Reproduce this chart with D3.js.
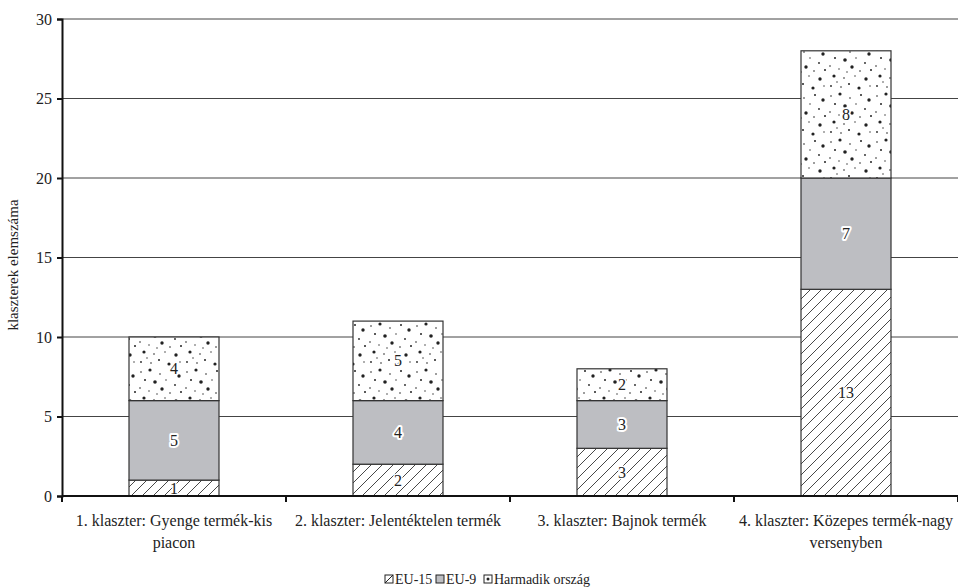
<!DOCTYPE html>
<html><head><meta charset="utf-8">
<script src="https://cdn.jsdelivr.net/npm/d3@7"></script>
<style>body{margin:0;background:#fff}svg{display:block}svg text{font-family:"Liberation Serif",serif;fill:#222}</style>
</head><body><svg id="c" width="958" height="587" font-family="Liberation Serif"></svg>
<script>
const categories = ["1. klaszter: Gyenge termék-kis piacon","2. klaszter: Jelentéktelen termék","3. klaszter: Bajnok termék","4. klaszter: Közepes termék-nagy versenyben"];
const categoryLines = [["1. klaszter: Gyenge termék-kis","piacon"],["2. klaszter: Jelentéktelen termék"],["3. klaszter: Bajnok termék"],["4. klaszter: Közepes termék-nagy","versenyben"]];
const seriesNames = ["EU-15","EU-9","Harmadik ország"];
const eu15 = [1,2,3,13];
const eu9 = [5,4,3,7];
const harmadik = [4,5,2,8];
const yTicks = [0,5,10,15,20,25,30];
const yTitle = "klaszterek elemszáma";

const svg = d3.select("#c");
const m = {l:62, r:0, t:19, b:91};
const W = 958, H = 587;
const x = d3.scaleBand().domain(categories).range([m.l, W - m.r]).paddingInner(0).paddingOuter(0);
const y = d3.scaleLinear().domain([0,30]).range([H - m.b, m.t]);

const defs = svg.append("defs");
const hatch = defs.append("pattern").attr("id","hatch").attr("patternUnits","userSpaceOnUse").attr("width",11).attr("height",11);
hatch.append("rect").attr("width",11).attr("height",11).attr("fill","#fff");
hatch.append("path").attr("d","M0,11 L11,0 M-3,3 L3,-3 M8,14 L14,8").attr("stroke","#333").attr("stroke-width",0.9);

const dots = defs.append("pattern").attr("id","dots").attr("patternUnits","userSpaceOnUse").attr("width",46).attr("height",46);
dots.append("rect").attr("width",46).attr("height",46).attr("fill","#fff");
const dotPts = [[3,4,0.8],[12,2,1.6],[22,6,0.8],[33,3,1.0],[41,8,1.7],[7,12,1.0],[17,14,1.8],[28,12,0.7],[37,17,0.9],[2,20,0.8],[11,23,0.7],[24,21,1.7],[32,25,0.8],[43,24,1.0],[6,30,1.6],[16,32,0.8],[27,30,0.7],[38,33,1.7],[3,40,0.9],[13,41,0.8],[21,38,1.0],[31,42,1.6],[42,40,0.7],[19,26,0.7],[9,36,0.7]];
dotPts.forEach(d=>dots.append("circle").attr("cx",d[0]).attr("cy",d[1]).attr("r",d[2]).attr("fill","#222"));

const fills = ["url(#hatch)","#bdbec2","url(#dots)"];

// gridlines
svg.append("g").selectAll("line").data(yTicks.filter(t=>t>0)).join("line")
  .attr("x1",m.l).attr("x2",W).attr("y1",d=>y(d)).attr("y2",d=>y(d))
  .attr("stroke","#444").attr("stroke-width",1);

// stacked bars
const data = categories.map((c,i)=>({cat:c, "EU-15":eu15[i], "EU-9":eu9[i], "Harmadik ország":harmadik[i]}));
const stack = d3.stack().keys(seriesNames)(data);
const bw = 90;
const g = svg.append("g");
stack.forEach((s,si)=>{
  g.selectAll(null).data(s).join("rect")
    .attr("x",d=>x(d.data.cat)+x.bandwidth()/2-bw/2)
    .attr("y",d=>y(d[1])).attr("width",bw).attr("height",d=>y(d[0])-y(d[1]))
    .attr("fill",fills[si]).attr("stroke","#333").attr("stroke-width",1.2);
});
stack.forEach((s,si)=>{
  g.selectAll(null).data(s).join("text")
    .attr("x",d=>x(d.data.cat)+x.bandwidth()/2)
    .attr("y",d=>(y(d[0])+y(d[1]))/2)
    .attr("dy","0.35em").attr("text-anchor","middle")
    .attr("font-size",16)
    .attr("stroke","#fff").attr("stroke-width",si===1?4:3).attr("paint-order","stroke")
    .attr("stroke-linejoin","round")
    .text(d=>d[1]-d[0]);
});

// axes
const ya = svg.append("g").attr("transform",`translate(${m.l},0)`)
  .call(d3.axisLeft(y).tickValues(yTicks).tickSize(5).tickPadding(5));
ya.attr("font-family","Liberation Serif").attr("font-size",16);
ya.select(".domain").attr("stroke","#111").attr("stroke-width",2);
ya.selectAll(".tick line").attr("stroke","#111").attr("stroke-width",2);
ya.selectAll("text").attr("fill","#222");

const bounds = categories.map(c=>x(c)).concat([W]);
svg.append("line").attr("x1",m.l).attr("x2",W).attr("y1",y(0)).attr("y2",y(0)).attr("stroke","#111").attr("stroke-width",2);
svg.append("g").selectAll("line").data(bounds).join("line")
  .attr("x1",d=>d).attr("x2",d=>d).attr("y1",y(0)).attr("y2",y(0)+6).attr("stroke","#111").attr("stroke-width",2);

categoryLines.forEach((lines,i)=>{
  const cx = x(categories[i])+x.bandwidth()/2;
  const t = svg.append("text").attr("text-anchor","middle").attr("font-size",16)
    .attr("x",cx).attr("y",y(0)+30);
  lines.forEach((ln,j)=>t.append("tspan").attr("x",cx).attr("dy",j?22:0).text(ln));
});

svg.append("text").attr("transform",`translate(18,${265}) rotate(-90)`).attr("text-anchor","middle")
  .attr("font-size",15).text(yTitle);

// legend
const legX = [385, 436, 484];
const ly = 579;
const dl = defs.append("pattern").attr("id","dotsL").attr("patternUnits","userSpaceOnUse").attr("width",8).attr("height",8).attr("x",legX[2]).attr("y",ly-4);
dl.append("rect").attr("width",8).attr("height",8).attr("fill","#fff");
dl.append("circle").attr("cx",4).attr("cy",4).attr("r",1.5).attr("fill","#222");
const hl = defs.append("pattern").attr("id","hatchL").attr("patternUnits","userSpaceOnUse").attr("width",8).attr("height",8).attr("x",legX[0]).attr("y",ly-4);
hl.append("rect").attr("width",8).attr("height",8).attr("fill","#fff");
hl.append("path").attr("d","M0,8 L8,0").attr("stroke","#222").attr("stroke-width",1);
const lsw = [ "url(#hatchL)", "#bdbec2", "url(#dotsL)" ];
const lg = svg.append("g");
seriesNames.forEach((n,i)=>{
  lg.append("rect").attr("x",legX[i]).attr("y",ly-4).attr("width",8).attr("height",8)
    .attr("fill",lsw[i]).attr("stroke","#222").attr("stroke-width",1);
  lg.append("text").attr("x",legX[i]+10).attr("y",ly).attr("dy","0.35em").attr("font-size",14).text(n);
});
</script></body></html>
